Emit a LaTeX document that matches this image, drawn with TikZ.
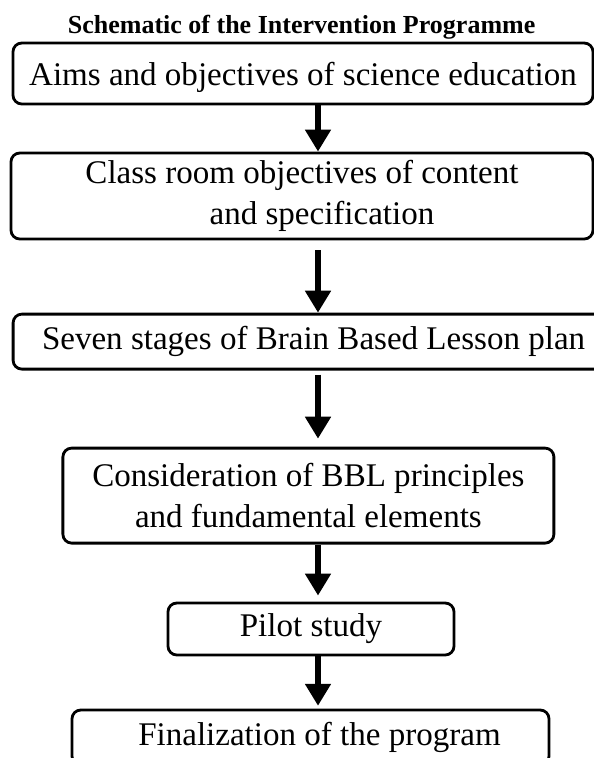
\documentclass[tikz,border=0pt]{standalone}
\usepackage{fontspec}
\setmainfont{Liberation Serif}
\usetikzlibrary{arrows.meta}

\begin{document}
\begin{tikzpicture}[
            stage/.style={
                rectangle,
                rounded corners=0.22cm,
                draw=black,
                line width=2pt,
                inner sep=0pt,
                align=center,
                font=\fontsize{23.5}{29}\selectfont
            },
            heading/.style={
                draw=none,
                inner sep=0pt,
                font=\fontsize{18.5}{22}\selectfont\bfseries
            },
            arrow/.style={-{Triangle[width=0.62cm,length=0.55cm]}, line width=4pt}
        ]

        % Page frame
        \clip (0,0) rectangle (14.85,-18.95);

        % Title
        \node[heading, anchor=base] (title) at (7.54,-0.825) {Schematic of the Intervention Programme};

        % Stages of the programme
        \node[stage, minimum width=14.5cm, minimum height=1.525cm, text height=0.8cm] (aims) at (7.575,-1.8375) {Aims and objectives of science education};
        \node[stage, minimum width=14.55cm, minimum height=2.15cm] (classroom) at (7.55,-4.9) {Class room objectives of content\\\hspace*{1cm}and specification};
        \node[stage, minimum width=15.025cm, minimum height=1.375cm] (stages) at (7.84,-8.54) {Seven stages of Brain Based Lesson plan};
        \node[stage, minimum width=12.275cm, minimum height=2.375cm] (bbl) at (7.71,-12.39) {Consideration of BBL principles\\and fundamental elements};
        \node[stage, minimum width=7.15cm, minimum height=1.3cm] (pilot) at (7.775,-15.725) {Pilot study};
        \node[stage, minimum width=11.925cm, minimum height=1.375cm] (final) at (7.7625,-18.4375) {\hspace*{0.45cm}Finalization of the program};

        % Connecting arrows
        \coordinate (axis) at (7.95,0);
        \draw[arrow] (aims.south -| axis) -- (classroom.north -| axis);
        \draw[arrow, shorten <=0.25cm] (classroom.south -| axis) -- (stages.north -| axis);
        \draw[arrow, shorten <=0.1cm, shorten >=0.2cm] (stages.south -| axis) -- (bbl.north -| axis);
        \draw[arrow, shorten >=0.15cm] (bbl.south -| axis) -- (pilot.north -| axis);
        \draw[arrow, shorten >=0.07cm] (pilot.south -| axis) -- (final.north -| axis);

        \end{tikzpicture}
\end{document}
